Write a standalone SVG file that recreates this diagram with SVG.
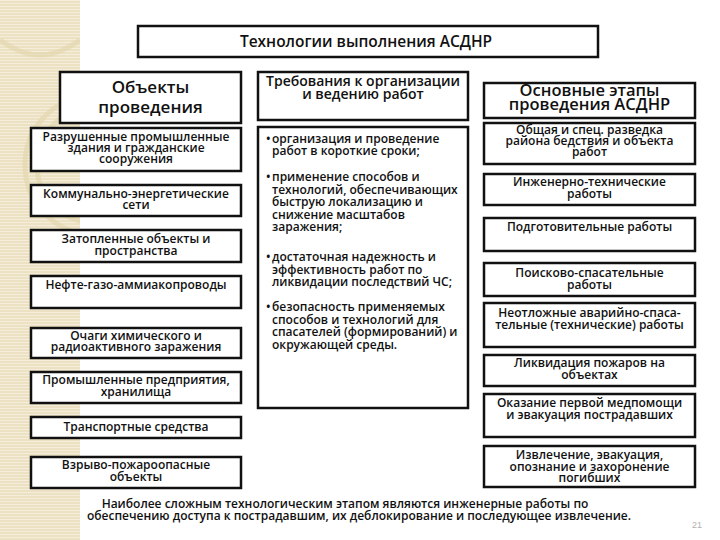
<svg xmlns="http://www.w3.org/2000/svg" width="720" height="540" viewBox="0 0 720 540">
<defs>
<pattern id="stripes" width="6" height="3" patternUnits="userSpaceOnUse">
<rect width="6" height="3" fill="#ECE1C2"/>
<rect width="6" height="1" fill="#F4EDD9"/>
</pattern>
<clipPath id="stripClip"><rect x="0" y="0" width="80" height="540"/></clipPath>
</defs>
<style>
.box{fill:#ffffff;stroke:#111111;stroke-width:2.5}
.t{font-family:"Open Sans","Noto Sans","Liberation Sans",sans-serif;font-weight:600;fill:#111111;text-anchor:middle}
.s{font-size:12px}
.b{font-family:"Open Sans","Noto Sans","Liberation Sans",sans-serif;font-weight:600;fill:#111111;font-size:12px}
</style>
<rect x="0" y="0" width="720" height="540" fill="#ffffff"/>
<g id="background-strip">
<rect x="0" y="0" width="80" height="540" fill="url(#stripes)"/>
<g clip-path="url(#stripClip)" fill="none" stroke="#E3D6AE" stroke-width="5" opacity="0.6">
<circle cx="95" cy="165" r="70"/>
<circle cx="95" cy="165" r="58"/>
<path d="M0 40 Q40 70 80 40"/>
</g>
</g>
<g id="title">
<rect class="box" x="138" y="26" width="460" height="31"/>
<text class="t" font-size="15.5" x="366" y="47">Технологии выполнения АСДНР</text>
</g>
<g id="objects-header">
<rect class="box" x="60" y="72" width="181" height="51"/>
<text class="t" font-size="17" x="150.5" y="93">Объекты</text>
<text class="t" font-size="17" x="150.5" y="113">проведения</text>
</g>
<g id="obj-1">
<rect class="box" x="31" y="128" width="210" height="43"/>
<text class="t s" x="136" y="141">Разрушенные промышленные</text>
<text class="t s" x="136" y="152">здания и гражданские</text>
<text class="t s" x="136" y="163">сооружения</text>
</g>
<g id="obj-2">
<rect class="box" x="31" y="185" width="210" height="31"/>
<text class="t s" x="136" y="198">Коммунально-энергетические</text>
<text class="t s" x="136" y="209">сети</text>
</g>
<g id="obj-3">
<rect class="box" x="31" y="230" width="210" height="32"/>
<text class="t s" x="136" y="243">Затопленные объекты и</text>
<text class="t s" x="136" y="255">пространства</text>
</g>
<g id="obj-4">
<rect class="box" x="31" y="276" width="210" height="32"/>
<text class="t s" x="136" y="289">Нефте-газо-аммиакопроводы</text>
</g>
<g id="obj-5">
<rect class="box" x="31" y="328" width="210" height="30"/>
<text class="t s" x="136" y="340">Очаги химического и</text>
<text class="t s" x="136" y="351">радиоактивного заражения</text>
</g>
<g id="obj-6">
<rect class="box" x="31" y="372" width="210" height="31"/>
<text class="t s" x="136" y="384">Промышленные предприятия,</text>
<text class="t s" x="136" y="396">хранилища</text>
</g>
<g id="obj-7">
<rect class="box" x="31" y="417" width="210" height="21"/>
<text class="t s" x="136" y="431">Транспортные средства</text>
</g>
<g id="obj-8">
<rect class="box" x="31" y="457" width="210" height="31"/>
<text class="t s" x="136" y="469">Взрыво-пожароопасные</text>
<text class="t s" x="136" y="481">объекты</text>
</g>
<g id="req-header">
<rect class="box" x="258" y="72" width="210" height="48"/>
<text class="t" font-size="14" x="363" y="86">Требования к организации</text>
<text class="t" font-size="14" x="363" y="99">и ведению работ</text>
</g>
<g id="req-list">
<rect class="box" x="258" y="127" width="210" height="281"/>
<text class="b" x="266" y="143">•</text>
<text class="b" x="272" y="143">организация и проведение</text>
<text class="b" x="272" y="155">работ в короткие сроки;</text>
<text class="b" x="266" y="181">•</text>
<text class="b" x="272" y="181">применение способов и</text>
<text class="b" x="272" y="193.5">технологий, обеспечивающих</text>
<text class="b" x="272" y="206">быструю локализацию и</text>
<text class="b" x="272" y="218.5">снижение масштабов</text>
<text class="b" x="272" y="231">заражения;</text>
<text class="b" x="266" y="261">•</text>
<text class="b" x="272" y="261">достаточная надежность и</text>
<text class="b" x="272" y="273.5">эффективность работ по</text>
<text class="b" x="272" y="286">ликвидации последствий ЧС;</text>
<text class="b" x="266" y="311">•</text>
<text class="b" x="272" y="311">безопасность применяемых</text>
<text class="b" x="272" y="323.5">способов и технологий для</text>
<text class="b" x="272" y="336">спасателей (формирований) и</text>
<text class="b" x="272" y="348.5">окружающей среды.</text>
</g>
<g id="stages-header">
<rect class="box" x="484" y="83" width="211" height="35"/>
<text class="t" font-size="16.5" x="589.5" y="96">Основные этапы</text>
<text class="t" font-size="16.5" x="589.5" y="110">проведения АСДНР</text>
</g>
<g id="stage-1">
<rect class="box" x="484" y="123" width="211" height="41"/>
<text class="t s" x="589.5" y="134">Общая и спец. разведка</text>
<text class="t s" x="589.5" y="145">района бедствия и объекта</text>
<text class="t s" x="589.5" y="156">работ</text>
</g>
<g id="stage-2">
<rect class="box" x="484" y="174" width="211" height="31"/>
<text class="t s" x="589.5" y="186">Инженерно-технические</text>
<text class="t s" x="589.5" y="198">работы</text>
</g>
<g id="stage-3">
<rect class="box" x="484" y="218" width="211" height="33"/>
<text class="t s" x="589.5" y="231">Подготовительные работы</text>
</g>
<g id="stage-4">
<rect class="box" x="484" y="263" width="211" height="33"/>
<text class="t s" x="589.5" y="277">Поисково-спасательные</text>
<text class="t s" x="589.5" y="289">работы</text>
</g>
<g id="stage-5">
<rect class="box" x="484" y="303" width="211" height="44"/>
<text class="t s" x="589.5" y="317">Неотложные аварийно-спаса-</text>
<text class="t s" x="589.5" y="329">тельные (технические) работы</text>
</g>
<g id="stage-6">
<rect class="box" x="484" y="355" width="211" height="31"/>
<text class="t s" x="589.5" y="367">Ликвидация пожаров на</text>
<text class="t s" x="589.5" y="379">объектах</text>
</g>
<g id="stage-7">
<rect class="box" x="484" y="394" width="211" height="43"/>
<text class="t s" x="589.5" y="407">Оказание первой медпомощи</text>
<text class="t s" x="589.5" y="419">и эвакуация пострадавших</text>
</g>
<g id="stage-8">
<rect class="box" x="484" y="446" width="211" height="41"/>
<text class="t s" x="589.5" y="459">Извлечение, эвакуация,</text>
<text class="t s" x="589.5" y="470.5">опознание и захоронение</text>
<text class="t s" x="589.5" y="482">погибших</text>
</g>
<g id="connectors"></g>
<g id="footer">
<text class="t s" x="345" y="508">Наиболее сложным технологическим этапом являются инженерные работы по</text>
<text class="t s" x="359" y="520">обеспечению доступа к пострадавшим, их деблокирование и последующее извлечение.</text>
<text font-family="Liberation Sans, sans-serif" font-size="9" fill="#B0B0B0" x="697" y="528" text-anchor="middle">21</text>
</g>
</svg>
